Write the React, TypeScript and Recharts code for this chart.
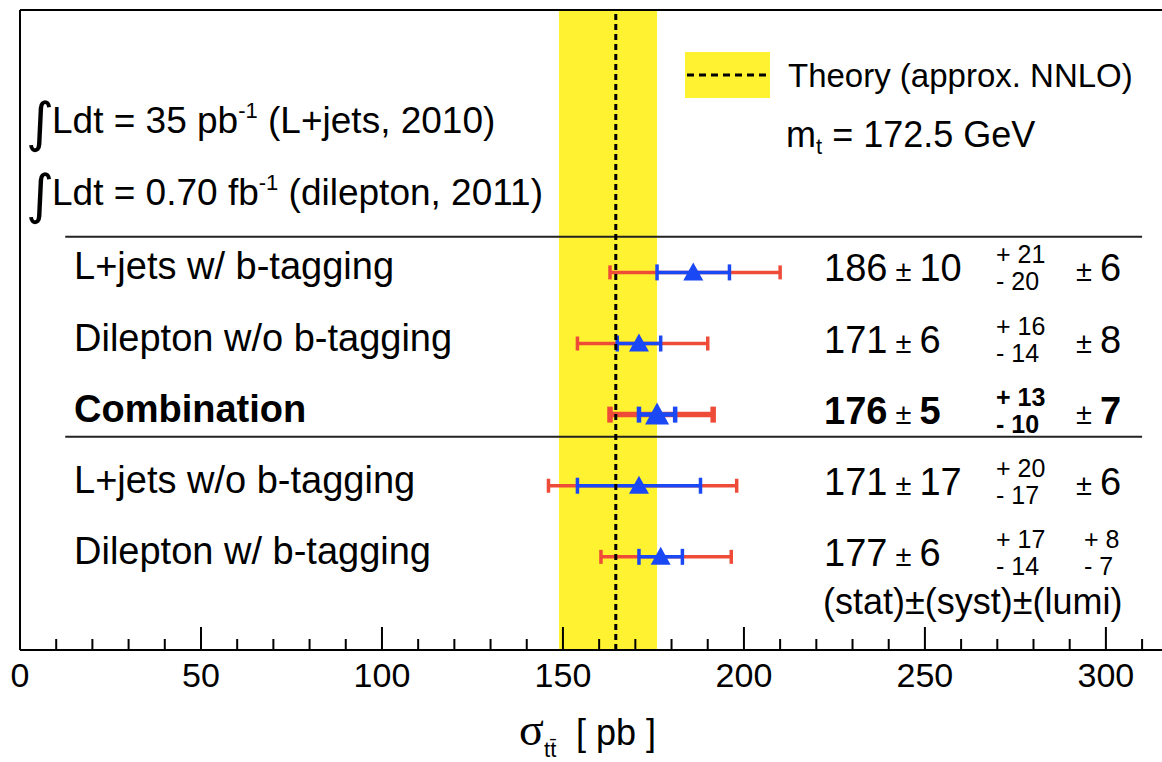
import React from "react";
import {
  ComposedChart,
  Scatter,
  ErrorBar,
  XAxis,
  YAxis,
  ReferenceArea,
  ReferenceLine,
} from "recharts";

const W = 1162;
const H = 762;
const FONT = '"Liberation Sans", Arial, Helvetica, sans-serif';
const SERIF = '"Liberation Serif", "DejaVu Serif", serif';
const RED = "#ef4b39";
const BLUE = "#1a48f5";
const YELLOW = "#fff231";

// measurements, top to bottom
const rowLabels = [
  "L+jets w/ b-tagging",
  "Dilepton w/o b-tagging",
  "Combination",
  "L+jets w/o b-tagging",
  "Dilepton w/ b-tagging",
];
const rowPos = [1, 2, 3, 4, 5];
const central = [186, 171, 176, 171, 177];
const statErr = [10, 6, 5, 17, 6];
const systUp = [21, 16, 13, 20, 17];
const systDown = [20, 14, 10, 17, 14];
const lumiUp = [6, 8, 7, 6, 8];
const lumiDown = [6, 8, 7, 6, 7];
// ends of the red (total) bars
const totalLow = [163, 154, 163, 146, 160.5];
const totalHigh = [210, 190, 191.5, 198, 196.5];

// theory band
const theoryCentral = 164.6;
const theoryLow = 148.9;
const theoryHigh = 176;

const xTicks = [0, 10, 20, 30, 40, 50, 60, 70, 80, 90, 100, 110, 120, 130, 140, 150, 160, 170, 180, 190, 200, 210, 220, 230, 240, 250, 260, 270, 280, 290, 300, 310];
const xDomain = [0, 315.5];
const yDomain = [-2.69, 6.31];
const separators = [0.5, 3.31];

const rows = rowPos.map((y, i) => ({
  x: central[i],
  y,
  stat: statErr[i],
  total: [central[i] - totalLow[i], totalHigh[i] - central[i]],
  combo: rowLabels[i] === "Combination",
}));
const measurements = rows.filter((r) => !r.combo);
const combination = rows.filter((r) => r.combo);

function Triangle(props: any) {
  const { cx, cy, payload } = props;
  const big = payload && payload.combo;
  const hw = big ? 12 : 10;
  const up = big ? 12 : 10;
  const down = big ? 10 : 8;
  return (
    <polygon
      points={`${cx - hw},${cy + down} ${cx + hw},${cy + down} ${cx},${cy - up}`}
      fill={BLUE}
    />
  );
}

function BottomTick(props: any) {
  const { x, y, payload } = props;
  const major = payload.value % 50 === 0;
  return (
    <g>
      <line x1={x} x2={x} y1={y} y2={y - (major ? 23 : 11)} stroke="#000" strokeWidth={2} />
      {major && (
        <text x={x} y={y + 37} textAnchor="middle" fontSize={34} fontFamily={FONT} fill="#000">
          {payload.value}
        </text>
      )}
    </g>
  );
}

function TopTick(props: any) {
  const { x, y, payload } = props;
  const major = payload.value % 50 === 0;
  return <line x1={x} x2={x} y1={y} y2={y + (major ? 23 : 11)} stroke="#000" strokeWidth={2} />;
}

function RowTick(props: any) {
  const { y, payload } = props;
  const i = rowPos.indexOf(payload.value);
  if (i < 0) return null;
  const bold = rowLabels[i] === "Combination";
  const fw = bold ? "bold" : "normal";
  const symLumi = lumiUp[i] === lumiDown[i];
  return (
    <g fontFamily={FONT} fill="#000">
      <text x={74} y={y + 7} fontSize={38} fontWeight={fw}>
        {rowLabels[i]}
      </text>
      <text x={824} y={y + 9} fontSize={38} fontWeight={fw}>
        {central[i]}
        <tspan fontSize={29} fontWeight="normal">{" ± "}</tspan>
        {statErr[i]}
      </text>
      <text x={996} y={y - 9} fontSize={25} fontWeight={fw}>
        {"+ " + systUp[i]}
      </text>
      <text x={996} y={y + 18} fontSize={25} fontWeight={fw}>
        {"- " + systDown[i]}
      </text>
      {symLumi ? (
        <text x={1076} y={y + 9} fontSize={38} fontWeight={fw}>
          <tspan fontSize={29} fontWeight="normal">{"± "}</tspan>
          {lumiUp[i]}
        </text>
      ) : (
        <g>
          <text x={1084} y={y - 9} fontSize={25}>
            {"+ " + lumiUp[i]}
          </text>
          <text x={1084} y={y + 18} fontSize={25}>
            {"- " + lumiDown[i]}
          </text>
        </g>
      )}
    </g>
  );
}

function Annotations() {
  return (
    <svg
      width={W}
      height={H}
      style={{ position: "absolute", left: 0, top: 0, pointerEvents: "none" }}
      fontFamily={FONT}
      fill="#000"
    >
      {/* luminosity lines */}
      <text x={26} y={141} fontSize={54} fontFamily='"DejaVu Sans", sans-serif'>∫</text>
      <text x={52} y={133} fontSize={37}>
        Ldt = 35 pb
        <tspan dy={-15} fontSize={22}>-1</tspan>
        <tspan dy={15} fontSize={37}> (L+jets, 2010)</tspan>
      </text>
      <text x={26} y={213} fontSize={54} fontFamily='"DejaVu Sans", sans-serif'>∫</text>
      <text x={52} y={205} fontSize={37}>
        Ldt = 0.70 fb
        <tspan dy={-15} fontSize={22}>-1</tspan>
        <tspan dy={15} fontSize={37}> (dilepton, 2011)</tspan>
      </text>

      {/* legend */}
      <rect x={685} y={52} width={85} height={46} fill={YELLOW} />
      <line x1={687} x2={770} y1={75} y2={75} stroke="#000" strokeWidth={3} strokeDasharray="7 5" />
      <text x={788} y={87} fontSize={33}>Theory (approx. NNLO)</text>
      <text x={786} y={147} fontSize={36}>
        m<tspan dy={7} fontSize={22}>t</tspan>
        <tspan dy={-7} fontSize={36}> = 172.5 GeV</tspan>
      </text>

      <text x={823} y={614} fontSize={36}>(stat)±(syst)±(lumi)</text>

      {/* axis title */}
      <text x={519} y={745} fontSize={46} fontFamily={SERIF}>σ</text>
      <text x={544} y={757} fontSize={22}>t{"t\u0304"}</text>
      <text x={576} y={745} fontSize={36}>[ pb ]</text>
    </svg>
  );
}

export default function App() {
  return (
    <div style={{ position: "absolute", left: 0, top: 0, width: W, height: H, background: "#fff" }}>
      <ComposedChart width={W} height={H} margin={{ top: 0, right: 0, bottom: 0, left: 0 }}>
        <XAxis
          xAxisId="top"
          orientation="top"
          type="number"
          domain={xDomain}
          allowDataOverflow
          ticks={xTicks}
          interval={0}
          height={10}
          tickSize={0}
          tickMargin={0}
          tickLine={false}
          tick={<TopTick />}
          axisLine={{ stroke: "#000", strokeWidth: 2 }}
        />
        <XAxis
          dataKey="x"
          type="number"
          domain={xDomain}
          allowDataOverflow
          ticks={xTicks}
          interval={0}
          height={112}
          tickSize={0}
          tickMargin={0}
          tickLine={false}
          tick={<BottomTick />}
          axisLine={{ stroke: "#000", strokeWidth: 2 }}
        />
        <YAxis
          dataKey="y"
          type="number"
          domain={yDomain}
          reversed
          allowDataOverflow
          ticks={rowPos}
          interval={0}
          width={20}
          tickSize={0}
          tickMargin={0}
          tickLine={false}
          tick={<RowTick />}
          axisLine={{ stroke: "#000", strokeWidth: 2 }}
        />
        <ReferenceArea x1={theoryLow} x2={theoryHigh} fill={YELLOW} fillOpacity={1} stroke="none" />
        {separators.map((s) => (
          <ReferenceLine
            key={s}
            segment={[
              { x: 12.5, y: s },
              { x: 310, y: s },
            ]}
            stroke="#222"
            strokeWidth={2}
          />
        ))}
        <Scatter data={measurements} shape={<Triangle />} isAnimationActive={false}>
          <ErrorBar dataKey="total" direction="x" width={7} stroke={RED} strokeWidth={3.5} />
          <ErrorBar dataKey="stat" direction="x" width={8} stroke={BLUE} strokeWidth={3.5} />
        </Scatter>
        <Scatter data={combination} shape={<Triangle />} isAnimationActive={false}>
          <ErrorBar dataKey="total" direction="x" width={8} stroke={RED} strokeWidth={5.5} />
          <ErrorBar dataKey="stat" direction="x" width={8} stroke={BLUE} strokeWidth={4.5} />
        </Scatter>
        <ReferenceLine x={theoryCentral} stroke="#000" strokeWidth={3} strokeDasharray="6 4" />
      </ComposedChart>
      <Annotations />
    </div>
  );
}
